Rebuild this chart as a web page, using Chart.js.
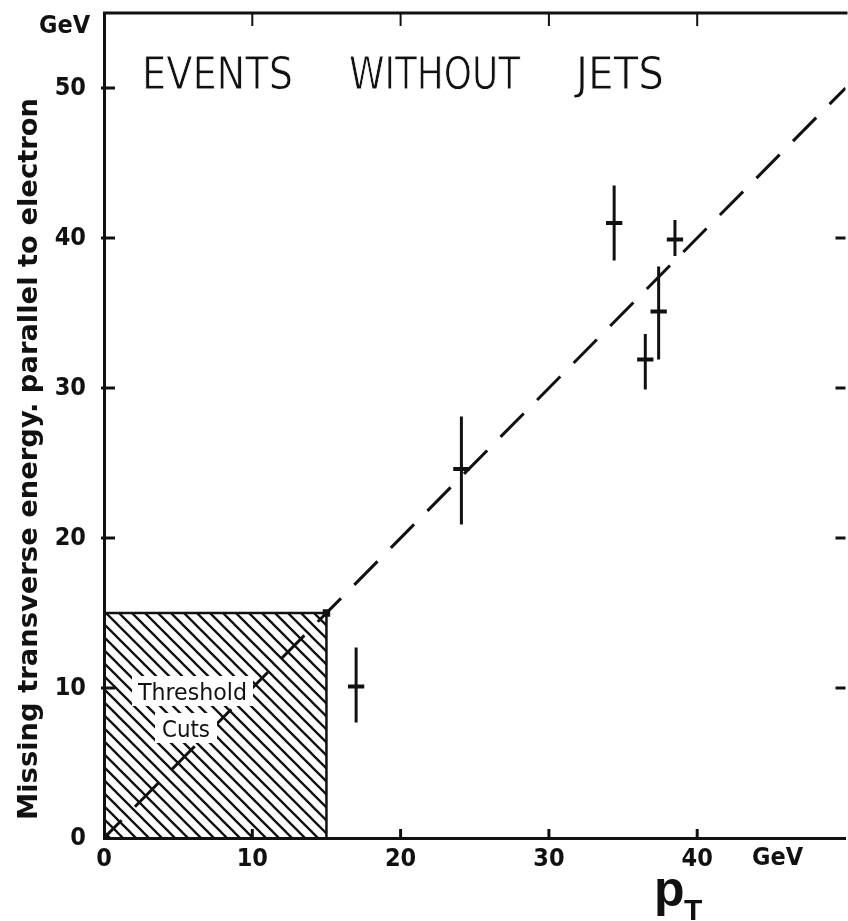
<!DOCTYPE html>
<html>
<head>
<meta charset="utf-8">
<title>Events without jets</title>
<script src="https://cdn.jsdelivr.net/npm/chart.js@4/dist/chart.umd.min.js"></script>
<style>
  html, body { margin: 0; padding: 0; background: #fff; overflow: hidden; }
  canvas { display: block; }
</style>
</head>
<body>
<canvas id="c" width="852" height="921"></canvas>
<script>
// Measured events: electron pT (x) vs. missing transverse energy parallel to electron (y), GeV
const ptX   = [17.0, 24.1, 34.4, 36.5, 37.4, 38.5];
const ptY   = [10.1, 24.6, 41.0, 31.9, 35.1, 39.9];
const yLow  = [7.7, 20.9, 38.5, 29.9, 31.9, 38.8];
const yHigh = [12.7, 28.1, 43.5, 33.6, 38.1, 41.2];
const xHalf = [0.55, 0.55, 0.55, 0.55, 0.55, 0.55];

// Expected correlation line (y = x)
const fitX = [0, 50];
const fitY = [0, 50];

// Threshold cuts (both variables)
const cutX = 15;
const cutY = 15;

// Axis tick labels
const xTickLabels = ['0', '10', '20', '30', '40'];
const yTickLabels = ['0', '10', '20', '30', '40', '50'];
const tickValues  = [10, 20, 30, 40];

const INK = '#111';
const LABEL_FONT = "'DejaVu Sans Condensed', 'DejaVu Sans', sans-serif";

function hatchPattern() {
  const s = 13;
  const c = document.createElement('canvas');
  c.width = s; c.height = s;
  const g = c.getContext('2d');
  g.strokeStyle = INK;
  g.lineWidth = 2.3;
  g.beginPath();
  g.moveTo(-2, -2); g.lineTo(s + 2, s + 2);
  g.moveTo(s - 2, -2); g.lineTo(s + 2, 2);
  g.moveTo(-2, s - 2); g.lineTo(2, s + 2);
  g.stroke();
  return g.createPattern(c, 'repeat');
}

// error bar segments, separated by gaps
const vBars = [];
const hBars = [];
ptX.forEach((x, i) => {
  vBars.push({ x: x, y: yLow[i] }, { x: x, y: yHigh[i] }, { x: x, y: null });
  hBars.push({ x: x - xHalf[i], y: ptY[i] }, { x: x + xHalf[i], y: ptY[i] }, { x: x, y: null });
});

function stretchText(ctx, str, x0, x1, baseY, font, thin) {
  ctx.font = font;
  const w = ctx.measureText(str).width;
  ctx.save();
  ctx.translate(x0, baseY);
  ctx.scale((x1 - x0) / w, 1);
  ctx.textAlign = 'left';
  ctx.textBaseline = 'alphabetic';
  ctx.fillText(str, 0, 0);
  if (thin) {
    // lighten the strokes of the lettering
    ctx.strokeStyle = '#fff';
    ctx.lineWidth = thin;
    ctx.strokeText(str, 0, 0);
  }
  ctx.restore();
}

const decorations = {
  id: 'decorations',
  afterDatasetsDraw(chart) {
    const ctx = chart.ctx;
    const a = chart.chartArea;
    const xs = chart.scales.x, ys = chart.scales.y;
    ctx.save();
    ctx.fillStyle = INK;
    ctx.strokeStyle = INK;

    // label plates inside the hatched region
    ctx.fillStyle = '#fff';
    ctx.fillRect(132, 676, 121, 30);
    ctx.fillRect(155, 713, 62, 30);
    ctx.fillStyle = INK;
    stretchText(ctx, 'Threshold', 138, 247, 700, '23px ' + LABEL_FONT);
    stretchText(ctx, 'Cuts', 162, 210, 737, '23px ' + LABEL_FONT);

    // frame: top edge
    ctx.lineWidth = 3;
    ctx.beginPath();
    ctx.moveTo(a.left - 1, a.top);
    ctx.lineTo(a.right + 2, a.top);
    ctx.stroke();

    // inward tick marks on all four sides
    tickValues.concat([50]).forEach(v => {
      const py = ys.getPixelForValue(v);
      ctx.lineWidth = 3;
      ctx.beginPath();
      ctx.moveTo(a.left - 3, py); ctx.lineTo(a.left + 11, py);
      ctx.stroke();
    });
    tickValues.forEach(v => {
      const py = ys.getPixelForValue(v);
      ctx.lineWidth = 3;
      ctx.beginPath();
      ctx.moveTo(a.right - 10, py); ctx.lineTo(a.right, py);
      ctx.stroke();
      const px = xs.getPixelForValue(v);
      ctx.beginPath();
      ctx.moveTo(px, a.bottom); ctx.lineTo(px, a.bottom - 9);
      ctx.stroke();
      ctx.lineWidth = 2;
      ctx.beginPath();
      ctx.moveTo(px, a.top); ctx.lineTo(px, a.top + 13);
      ctx.stroke();
    });

    // title
    const tFont = '45px ' + LABEL_FONT;
    stretchText(ctx, 'EVENTS', 142, 293, 89, tFont, 0.8);
    stretchText(ctx, 'WITHOUT', 349, 520, 89, tFont, 0.8);
    stretchText(ctx, 'JETS', 576, 664, 89, tFont, 0.8);

    // units
    stretchText(ctx, 'GeV', 39, 90, 33, 'bold 25px ' + LABEL_FONT);
    stretchText(ctx, 'GeV', 752, 803, 865, 'bold 25px ' + LABEL_FONT);

    // y axis title
    ctx.save();
    ctx.translate(37, 820);
    ctx.rotate(-Math.PI / 2);
    stretchText(ctx, 'Missing transverse energy. parallel to electron', 0, 722, 0, 'bold 26px ' + LABEL_FONT);
    ctx.restore();

    // x axis title pT
    ctx.font = "bold 50px 'Liberation Sans', Arial, sans-serif";
    ctx.textAlign = 'left';
    ctx.textBaseline = 'alphabetic';
    ctx.fillText('p', 654, 906);
    ctx.font = "bold 30px 'Liberation Sans', Arial, sans-serif";
    ctx.fillText('T', 684, 920);

    ctx.restore();
  }
};

new Chart(document.getElementById('c'), {
  type: 'line',
  data: {
    datasets: [
      {
        label: 'vertical error',
        data: vBars,
        borderColor: INK, borderWidth: 3, pointRadius: 0, fill: false, spanGaps: false,
        borderCapStyle: 'butt'
      },
      {
        label: 'horizontal error',
        data: hBars,
        borderColor: INK, borderWidth: 4, pointRadius: 0, fill: false, spanGaps: false
      },
      {
        label: 'y = x',
        data: fitX.map((x, i) => ({ x: x, y: fitY[i] })),
        borderColor: INK, borderWidth: 3, borderDash: [33, 19], borderDashOffset: 8,
        pointRadius: 0, fill: false
      },
      {
        label: 'cut edge',
        data: [{ x: cutX, y: 0 }, { x: cutX, y: cutY }],
        borderColor: INK, borderWidth: 2.5, pointRadius: 0, fill: false
      },
      {
        label: 'threshold cuts',
        data: [{ x: 0, y: cutY }, { x: cutX, y: cutY }],
        borderColor: INK, borderWidth: 2.5,
        backgroundColor: hatchPattern(),
        fill: 'origin',
        pointRadius: [0, 3.5], pointStyle: 'rect',
        pointBackgroundColor: INK, pointBorderColor: INK
      }
    ]
  },
  options: {
    responsive: false,
    animation: false,
    devicePixelRatio: 1,
    layout: { padding: { top: 13, right: 3, left: 0, bottom: 0 } },
    plugins: { legend: { display: false }, tooltip: { enabled: false }, title: { display: false } },
    elements: { line: { tension: 0 } },
    scales: {
      x: {
        type: 'linear', min: 0, max: 50,
        grid: { display: false, drawTicks: false },
        border: { display: true, color: INK, width: 3 },
        ticks: {
          stepSize: 10, includeBounds: false, padding: 6,
          color: INK, font: { family: LABEL_FONT, size: 25, weight: 'bold' },
          maxRotation: 0,
          callback: (v) => xTickLabels[v / 10] !== undefined ? xTickLabels[v / 10] : ''
        },
        afterFit: (s) => { s.height = 83; s.paddingLeft = 0; s.paddingRight = 0; }
      },
      y: {
        type: 'linear', min: 0, max: 55,
        grid: { display: false, drawTicks: false },
        border: { display: true, color: INK, width: 3 },
        ticks: {
          stepSize: 10, includeBounds: false, padding: 18,
          color: INK, font: { family: LABEL_FONT, size: 25, weight: 'bold' },
          callback: (v) => yTickLabels[v / 10] !== undefined ? yTickLabels[v / 10] : ''
        },
        afterFit: (s) => { s.width = 104; s.paddingTop = 0; s.paddingBottom = 0; }
      }
    }
  },
  plugins: [decorations]
});
</script>
</body>
</html>
